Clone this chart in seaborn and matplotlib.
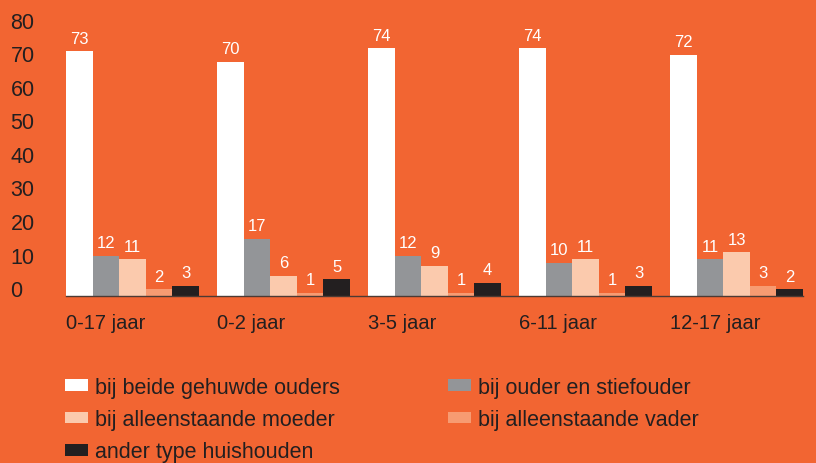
import pandas as pd
import matplotlib.pyplot as plt
import seaborn as sns
from matplotlib.patches import Patch

# Data
leeftijden = ['0-17 jaar', '0-2 jaar', '3-5 jaar', '6-11 jaar', '12-17 jaar']
types = ['bij beide gehuwde ouders', 'bij ouder en stiefouder',
         'bij alleenstaande moeder', 'bij alleenstaande vader',
         'ander type huishouden']
beide_ouders = [73, 70, 74, 74, 72]
stiefouder = [12, 17, 12, 10, 11]
alleen_moeder = [11, 6, 9, 11, 13]
alleen_vader = [2, 1, 1, 1, 3]
ander_type = [3, 5, 4, 3, 2]

series = [beide_ouders, stiefouder, alleen_moeder, alleen_vader, ander_type]
rows = []
for t, vals in zip(types, series):
    for lft, v in zip(leeftijden, vals):
        rows.append({'leeftijd': lft, 'type': t, 'pct': v})
df = pd.DataFrame(rows)

bg = '#F26532'
dark = '#231F20'
colors = ['#FFFFFF', '#939598', '#FBCAAD', '#F79B72', '#231F20']

sns.set_theme(style='white')
plt.rcParams['font.family'] = ['Liberation Sans', 'DejaVu Sans']

fig = plt.figure(figsize=(8.16, 4.64), dpi=100, facecolor=bg)
ax = fig.add_axes([66 / 816, (464 - 297) / 464, 737 / 816, 268 / 464])
ax.set_facecolor(bg)

sns.barplot(data=df, x='leeftijd', y='pct', hue='type', palette=colors,
            width=0.88, saturation=1, gap=0, ax=ax, linewidth=0, legend=False)

for cont in ax.containers:
    ax.bar_label(cont, padding=4, color='white', fontsize=12, clip_on=False)

ax.set_xlim(-0.44, 4.44)
ax.set_ylim(0, 80)
ax.set_yticks(range(0, 81, 10))
ax.set_yticklabels([str(v) for v in range(0, 81, 10)], fontsize=15.5,
                   color=dark, ha='left', va='baseline')
ax.tick_params(axis='y', length=0, pad=40)

ax.set_xticks([i - 0.44 for i in range(len(leeftijden))])
ax.set_xticklabels(leeftijden, fontsize=14.5, color=dark, ha='left')
ax.tick_params(axis='x', length=0, pad=12)

ax.set_xlabel('')
ax.set_ylabel('')
for s in ['top', 'right', 'left']:
    ax.spines[s].set_visible(False)
ax.spines['bottom'].set_color('#4d3a33')
ax.spines['bottom'].set_linewidth(1.0)
ax.grid(False)

handles = [Patch(facecolor=c, edgecolor='none') for c in colors]
order = [0, 2, 4, 1, 3]
fig.legend([handles[i] for i in order], [types[i] for i in order],
           ncol=2, loc='upper left', bbox_to_anchor=(65 / 816, 1 - 378 / 464),
           frameon=False, fontsize=15.5, labelcolor=dark,
           handlelength=1.07, handleheight=0.47, handletextpad=0.33,
           columnspacing=5.0, labelspacing=0.52, borderaxespad=0, borderpad=0)

fig.savefig('out.png', dpi=100, facecolor=bg)
